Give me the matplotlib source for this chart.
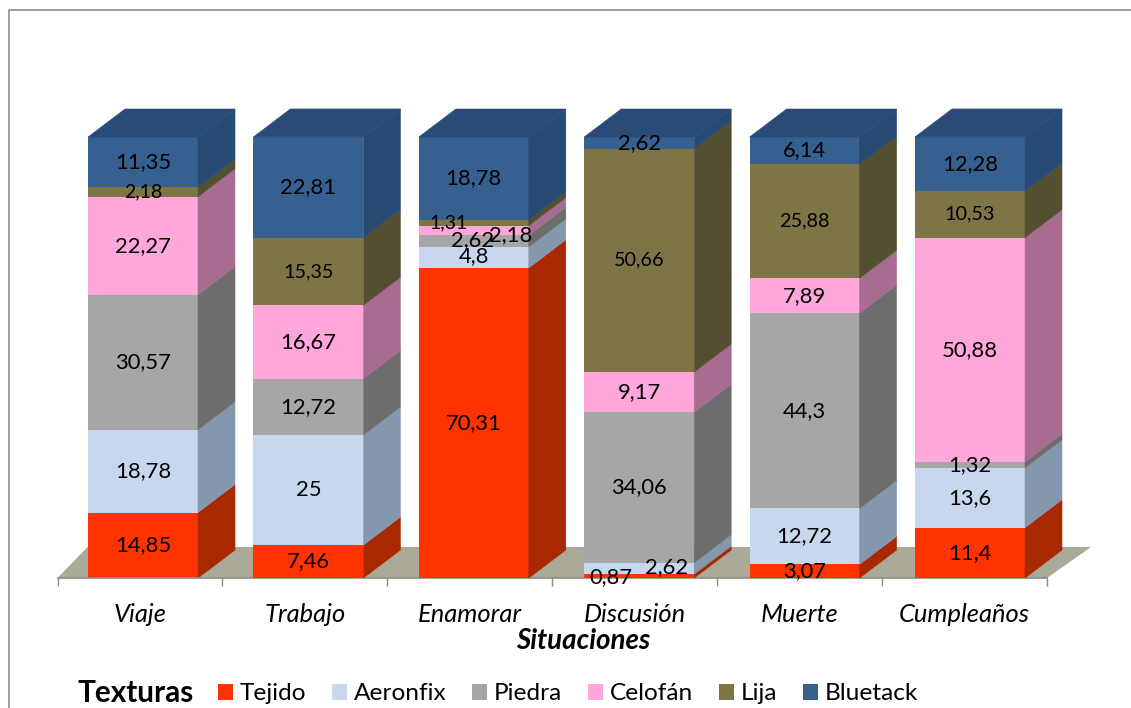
"""
Stacked bars of textures per situation, drawn with a fake 3D box look.
"""

import matplotlib

matplotlib.use("Agg")
import matplotlib.pyplot as plt
from matplotlib.patches import Patch, Polygon

plt.rcParams["font.family"] = ["Lato", "DejaVu Sans"]

situaciones = ["Viaje", "Trabajo", "Enamorar", "Discusión", "Muerte", "Cumpleaños"]
texturas = ["Tejido", "Aeronfix", "Piedra", "Celofán", "Lija", "Bluetack"]

tejido = [14.85, 7.46, 70.31, 0.87, 3.07, 11.4]
aeronfix = [18.78, 25, 4.8, 2.62, 12.72, 13.6]
piedra = [30.57, 12.72, 2.62, 34.06, 44.3, 1.32]
celofan = [22.27, 16.67, 2.18, 9.17, 7.89, 50.88]
lija = [2.18, 15.35, 1.31, 50.66, 25.88, 10.53]
bluetack = [11.35, 22.81, 18.78, 2.62, 6.14, 12.28]
series = [tejido, aeronfix, piedra, celofan, lija, bluetack]

front_colors = ["#FF3300", "#C6D7EE", "#A6A6A6", "#FFA6DB", "#7E7546", "#35608F"]
side_colors = ["#A82800", "#8497AD", "#6D6D6D", "#A76C90", "#544F30", "#264A72"]
top_color = "#2A4B78"
floor_color = "#ABA998"

W, H = 1131, 708
PX_X = 165.4  # pixels per category
PX_Y = 4.41  # pixels per percent
BAR_W = 110 / PX_X
DEPTH_X = 37 / PX_X
DEPTH_Y = 28 / PX_Y

# labels that do not sit in the middle of their segment: (serie, bar): (dx, dy) px
nudges = {
    (3, 2): (37, -5),
    (4, 2): (-25, 0),
    (2, 2): (-1, 1),
    (1, 2): (0, 1),
    (0, 3): (-28, -1),
    (1, 3): (27, 1),
}
small_labels = {(4, 0), (4, 1), (4, 2), (4, 3), (4, 4), (4, 5)}

fig = plt.figure(figsize=(W / 100, H / 100), dpi=100)
ax = fig.add_axes([57.5 / W, 1 - 578 / H, (1047 - 57.5) / W, (578 - 137) / H])
ax.set_xlim((57.5 - 143) / PX_X, (1047 - 143) / PX_X)
ax.set_ylim(0, 100)

# floor
x0, x1 = ax.get_xlim()
ax.add_patch(Polygon([(x0, 0), (x1, 0), (x1 + 44 / PX_X, 31 / PX_Y), (x0 + 30 / PX_X, 31 / PX_Y)],
                     closed=True, facecolor=floor_color, edgecolor="none",
                     clip_on=False, zorder=1))

for i in range(len(situaciones)):
    bottom = 0
    right = i + BAR_W / 2
    for j, values in enumerate(series):
        value = values[i]
        ax.bar(i, value, BAR_W, bottom=bottom, color=front_colors[j], zorder=2 + i)
        ax.add_patch(Polygon([(right, bottom), (right + DEPTH_X, bottom + DEPTH_Y),
                              (right + DEPTH_X, bottom + value + DEPTH_Y), (right, bottom + value)],
                             closed=True, facecolor=side_colors[j], edgecolor=side_colors[j],
                             linewidth=0.4, clip_on=False, zorder=2 + i))
        dx, dy = nudges.get((j, i), (0, 0))
        size = 14.3 if (j, i) in small_labels else 15.8
        if (j, i) in [(4, 0), (4, 2)]:
            size = 14
        ax.text(i + dx / PX_X, bottom + value / 2 + dy / PX_Y,
                str(value).replace(".", ","), ha="center", va="center",
                fontsize=size, color="black", zorder=20, clip_on=False)
        bottom += value
    ax.add_patch(Polygon([(i - BAR_W / 2, bottom), (right, bottom),
                          (right + DEPTH_X, bottom + DEPTH_Y), (i - BAR_W / 2 + DEPTH_X, bottom + DEPTH_Y)],
                         closed=True, facecolor=top_color, edgecolor=top_color,
                         linewidth=0.4, clip_on=False, zorder=2 + i))

for name in ["top", "left", "right"]:
    ax.spines[name].set_visible(False)
ax.spines["bottom"].set_color("#8C8C8C")
ax.spines["bottom"].set_linewidth(1.2)
ax.patch.set_alpha(0)
ax.set_yticks([])

# tick marks between the categories, names in the middle of each slot
n = len(situaciones)
step = (x1 - x0) / n
ax.set_xticks([x0 + k * step for k in range(n + 1)])
ax.set_xticklabels([])
ax.tick_params(axis="x", which="major", length=6, width=1, color="#8C8C8C")
ax.set_xticks([x0 + (k + 0.5) * step for k in range(n)], minor=True)
ax.set_xticklabels(situaciones, minor=True, fontstyle="italic", fontsize=18.4)
ax.tick_params(axis="x", which="minor", length=0, pad=18)
ax.set_xlabel("Situaciones", fontstyle="italic", fontweight="bold", fontsize=20, labelpad=0)
ax.xaxis.set_label_coords((583 - 57.5) / (1047 - 57.5), -(628 - 578) / (578 - 137))

# outer frame, open to the right and below
fig.add_artist(plt.Line2D([9 / W, 9 / W, 1], [0, 1 - 10 / H, 1 - 10 / H],
                          color="#8C8C8C", linewidth=1.2))

fig.text(77 / W, 1 - 693 / H, "Texturas", fontsize=21.4, fontweight="bold", va="center")
handles = [Patch(facecolor=c, edgecolor="none", label=t) for c, t in zip(front_colors, texturas)]
fig.legend(handles=handles, ncol=6, loc="center left", bbox_to_anchor=(218 / W, 1 - 694 / H),
           frameon=False, fontsize=17.6, handlelength=0.61, handleheight=0.61,
           handletextpad=0.28, columnspacing=1.06, borderpad=0, borderaxespad=0)

fig.savefig("out.png", dpi=100)
